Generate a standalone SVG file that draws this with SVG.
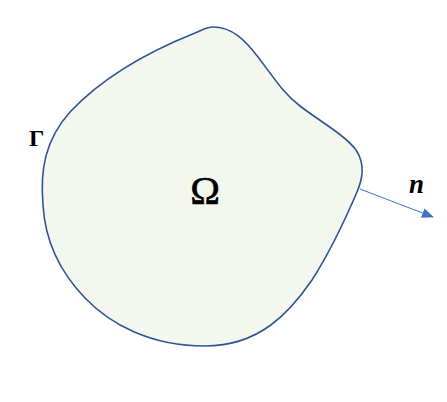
<svg xmlns="http://www.w3.org/2000/svg" width="447" height="402" viewBox="0 0 447 402">
<style>
.t{font-family:"Liberation Serif","DejaVu Serif",serif;fill:#000}
</style>
<defs>
<marker id="ah" viewBox="0 0 12 10" refX="11" refY="5" markerWidth="12" markerHeight="10" markerUnits="userSpaceOnUse" orient="auto">
<path d="M0,0 L12,5 L0,10 Z" fill="#4472C4"/>
</marker>
</defs>
<rect width="447" height="402" fill="#fff"/>
<g id="domain">
<path d="M213,27 C232,27 245,40 258,57 C272,75 282,92 300,106 C318,120 345,135 356,150 C366,165 362,180 357,192 C345,220 330,252 312,280 C290,312 260,346 205,346 C150,346 110,324 85,298 C60,272 45,240 43,205 C40,170 45,140 70,112 C100,80 140,55 195,33 C202,30 207,27 213,27 Z" fill="#F4F7EE" stroke="#2F5597" stroke-width="1.6"/>
<text class="t" x="205" y="204" font-size="40" text-anchor="middle" stroke="#000" stroke-width="0.6">Ω</text>
</g>
<g id="boundary-label">
<text class="t" x="29" y="146" font-size="24" font-weight="bold">Γ</text>
</g>
<g id="connectors">
<line x1="360" y1="189" x2="433" y2="217" stroke="#4472C4" stroke-width="1" marker-end="url(#ah)"/>
</g>
<g id="normal-label">
<text class="t" x="409" y="193" font-size="27" font-weight="bold" font-style="italic">n</text>
</g>
</svg>
